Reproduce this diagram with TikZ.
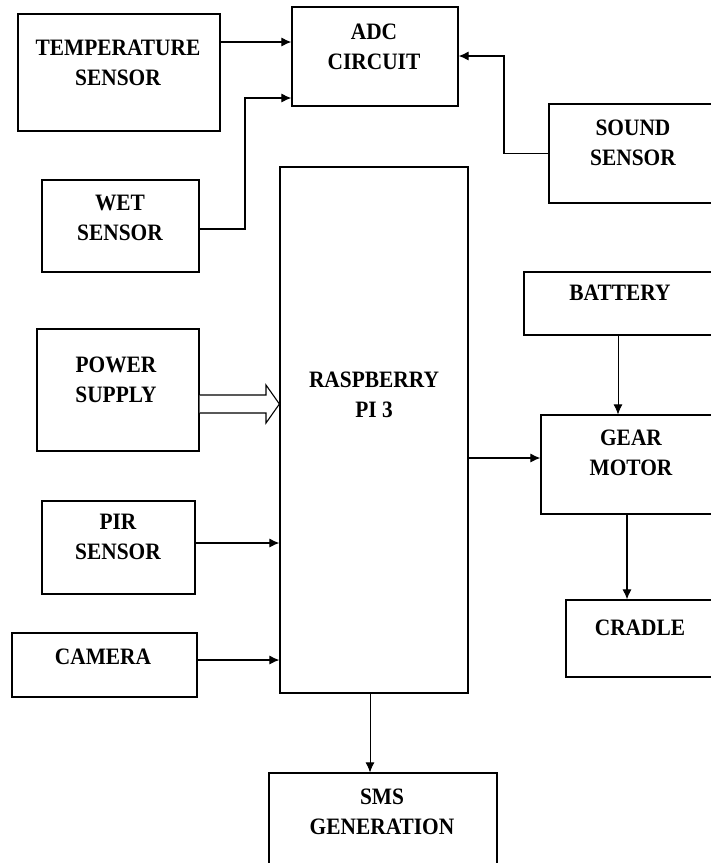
\documentclass[tikz,border=0pt]{standalone}
\usepackage{fontspec}
\setmainfont{Liberation Serif}
\newfontfamily\blockfont[FakeStretch=0.91]{Liberation Serif}
\usetikzlibrary{arrows.meta}

\tikzset{
  blk/.style={draw, line width=1.2pt, inner sep=0pt},
  lbl/.style={align=center, inner sep=0pt, font=\blockfont\bfseries\fontsize{23.5}{30}\selectfont},
  arr/.style={line width=1.1pt, -{Latex[length=10pt,width=9pt]}}
}

\begin{document}
\begin{tikzpicture}[x=1pt, y=-1pt]
\useasboundingbox (0,0) rectangle (711,863);
% blocks
\node[blk, minimum width=202pt, minimum height=117pt] (temp) at (119,72.5) {};
\node[blk, minimum width=166pt, minimum height=99pt] (adc) at (375,56.5) {};
\node[blk, minimum width=168pt, minimum height=99pt] (sound) at (633,153.5) {};
\node[blk, minimum width=157pt, minimum height=92pt] (wet) at (120.5,226) {};
\node[blk, minimum width=188pt, minimum height=526pt] (rpi) at (374,430) {};
\node[blk, minimum width=193pt, minimum height=63pt] (bat) at (620.5,303.5) {};
\node[blk, minimum width=162pt, minimum height=122pt] (power) at (118,390) {};
\node[blk, minimum width=180pt, minimum height=99pt] (gear) at (631,464.5) {};
\node[blk, minimum width=153pt, minimum height=93pt] (pir) at (118.5,547.5) {};
\node[blk, minimum width=149pt, minimum height=77pt] (cradle) at (640.5,638.5) {};
\node[blk, minimum width=185pt, minimum height=64pt] (cam) at (104.5,665) {};
\node[blk, minimum width=228pt, minimum height=95pt] (sms) at (383,820.5) {};
% labels
\node[lbl] (tempT) at (118,63) {TEMPERATURE\\SENSOR};
\node[lbl] (adcT) at (374,47) {ADC\\CIRCUIT};
\node[lbl] (soundT) at (633,143) {SOUND\\SENSOR};
\node[lbl] (wetT) at (120,218) {WET\\SENSOR};
\node[lbl] (rpiT) at (374,395) {RASPBERRY\\PI 3};
\node[lbl] (batT) at (620,293) {BATTERY};
\node[lbl] (powerT) at (116,380) {POWER\\SUPPLY};
\node[lbl] (gearT) at (631,453) {GEAR\\MOTOR};
\node[lbl] (pirT) at (118,537) {PIR\\SENSOR};
\node[lbl] (cradleT) at (640,628) {CRADLE};
\node[lbl] (camT) at (103,657) {CAMERA};
\node[lbl] (smsT) at (382,812) {SMS\\GENERATION};
% connectors
\draw[arr] (temp.east |- 0,42) -- (adc.west |- 0,42);
\draw[arr] (wet.east |- 0,229) -| (245,98) -- (adc.west |- 0,98);
\draw[arr] (sound.west) -| (504,56) -- (adc.east |- 0,56);
\draw[line width=1.1pt, fill=white] (power.east |- 0,395) -- (266,395) -- (266,385)
  -- (rpi.west |- 0,404) -- (266,423) -- (266,413) -- (power.east |- 0,413);
\draw[arr] (pir.east |- 0,543) -- (rpi.west |- 0,543);
\draw[arr] (cam.east |- 0,660) -- (rpi.west |- 0,660);
\draw[arr] (rpi.east |- 0,458) -- (gear.west |- 0,458);
\draw[arr, line width=0.8pt] (bat.south -| 618,0) -- (gear.north -| 618,0);
\draw[arr] (gear.south -| 627,0) -- (cradle.north -| 627,0);
\draw[arr, line width=0.9pt] (rpi.south -| 370,0) -- (sms.north -| 370,0);
\end{tikzpicture}
\end{document}
